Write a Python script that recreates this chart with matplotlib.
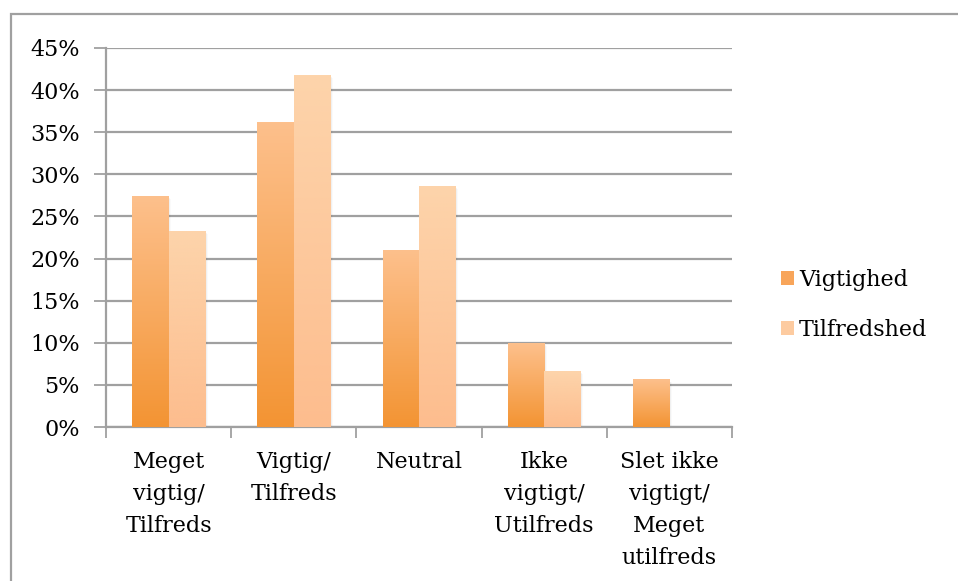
import numpy as np
import matplotlib
matplotlib.use("Agg")
import matplotlib.pyplot as plt
from matplotlib.colors import LinearSegmentedColormap
from matplotlib.patches import Rectangle
from matplotlib.ticker import FuncFormatter, MultipleLocator

categories = ["Meget\nvigtig/\nTilfreds", "Vigtig/\nTilfreds", "Neutral",
              "Ikke\nvigtigt/\nUtilfreds", "Slet ikke\nvigtigt/\nMeget\nutilfreds"]
series_names = ["Vigtighed", "Tilfredshed"]
vigtighed = [0.274, 0.362, 0.209, 0.099, 0.056]
tilfredshed = [0.232, 0.417, 0.286, 0.066, 0.0]

plt.rcParams['font.family'] = ['DejaVu Serif']

W, H = 958, 581
fig = plt.figure(figsize=(W / 100, H / 100), dpi=100)
ax = fig.add_axes([106 / W, (H - 427) / H, (732 - 106) / W, (427 - 48) / H])

grad_colors = [
    ("#F39433", "#FDC08C"),
    ("#FDBD8E", "#FDD4AB"),
]
legend_colors = ["#F8A55A", "#FDCBA0"]

bw = 0.29
x = np.arange(len(categories))
series = [vigtighed, tilfredshed]
offsets = [-bw / 2, bw / 2]

for s, (vals, off) in enumerate(zip(series, offsets)):
    cmap = LinearSegmentedColormap.from_list("g%d" % s, list(grad_colors[s]))
    grad = np.linspace(1, 0, 256).reshape(-1, 1)
    for xi, v in zip(x, vals):
        if v <= 0:
            continue
        x0, x1 = xi + off - bw / 2, xi + off + bw / 2
        # soft shadow on the right side
        for k, a in enumerate([0.06, 0.04, 0.02]):
            d = 0.007 * (k + 1)
            ax.add_patch(Rectangle((x0, 0), bw + d, v - 0.001 * (k + 1),
                                   facecolor="black", alpha=a, edgecolor="none", zorder=2))
        ax.imshow(grad, cmap=cmap, aspect="auto", extent=[x0, x1, 0, v],
                  zorder=3, interpolation="bilinear")

ax.set_xlim(-0.5, len(categories) - 0.5)
ax.set_ylim(0, 0.45)
ax.yaxis.set_major_locator(MultipleLocator(0.05))
ax.yaxis.set_major_formatter(FuncFormatter(lambda v, p: "%d%%" % round(v * 100)))
ax.grid(axis="y", color="#A0A0A0", linewidth=1.6, zorder=1)
ax.set_axisbelow(True)

ax.set_xticks(x)
ax.set_xticklabels(categories, fontsize=16, linespacing=1.6, va="top")
ax.set_xticks(np.arange(-0.5, len(categories)), minor=True)
ax.tick_params(axis="x", which="major", length=0, pad=17)
ax.tick_params(axis="x", which="minor", length=8, width=1.3, color="#A0A0A0", direction="out")
ax.tick_params(axis="y", length=9, width=1.3, color="#A0A0A0", direction="out",
               labelsize=16, pad=10)

for side in ["top", "right"]:
    ax.spines[side].set_visible(False)
for side in ["left", "bottom"]:
    ax.spines[side].set_color("#A0A0A0")
    ax.spines[side].set_linewidth(1.6)

handles = [Rectangle((0, 0), 1, 1, facecolor=c, edgecolor="none") for c in legend_colors]
leg = fig.legend(handles, series_names, loc="center left",
                 bbox_to_anchor=(761 / W, (H - 305) / H), frameon=False,
                 fontsize=16, handlelength=0.6, handleheight=0.6,
                 handletextpad=0.2, labelspacing=1.25)

fig.patches.append(Rectangle((10.5 / W, -0.1), 1.2, (H - 14) / H + 0.1,
                             transform=fig.transFigure, fill=False,
                             edgecolor="#A0A0A0", linewidth=1.6))

fig.savefig("out.png", dpi=100)
